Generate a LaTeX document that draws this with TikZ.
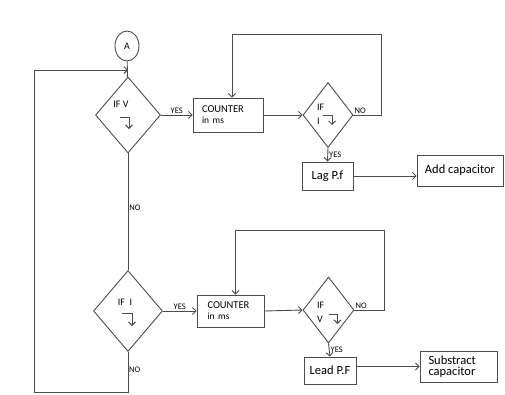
\documentclass[tikz,border=0pt]{standalone}
\usepackage{fontspec}
\setmainfont{Carlito}
\usetikzlibrary{shapes.geometric, positioning, arrows.meta}

\tikzset{
  line/.style={draw=black!70, line width=0.9pt},
  arr/.style={line, -{Straight Barb[length=3.5pt,width=7pt]}},
  blk/.style={line, rectangle, inner sep=0pt, font=\fontsize{12.5}{13}\selectfont},
  cnt/.style={blk, align=left, font=\fontsize{10.5}{12}\selectfont},
  dec/.style={line, diamond, inner sep=0pt},
  ift/.style={inner sep=0pt, font=\fontsize{10}{11}\selectfont},
  yn/.style={inner sep=1pt, font=\fontsize{8.5}{9}\selectfont}
}

\begin{document}
\begin{tikzpicture}[x=1pt, y=-1pt]
\useasboundingbox (0,0) rectangle (505,394);

% upper branch
\node[line, ellipse, minimum width=24pt, minimum height=30pt, inner sep=0pt] (A) at (127,46) {A};
\node[dec, minimum width=65pt, minimum height=76pt] (d1) at (128,115) {};
\node[ift] (t1) at ([shift={(-7,-11)}]d1.center) {IF V};
\node[cnt, minimum width=70pt, minimum height=34pt, text width=52pt] (c1) at (228,115) {COUNTER\\[-1pt]{\fontsize{9.5}{10}\selectfont in ms}};
\node[dec, minimum width=50pt, minimum height=65pt] (d2) at (328,115) {};
\node[ift, anchor=west] (t2a) at ([shift={(-11,-8)}]d2.center) {IF};
\node[ift, anchor=west] (t2b) at ([shift={(-11,6)}]d2.center) {I};
\node[blk, minimum width=51pt, minimum height=28pt] (lag) at (327.5,176) {Lag P.f};
\node[blk, minimum width=86pt, minimum height=31pt] (add) at (460,170.5) {Add capacitor};

% lower branch
\node[dec, minimum width=69pt, minimum height=81pt] (d3) at (128,311) {};
\node[ift] (t3) at ([shift={(-3,-9)}]d3.center) {IF\ \ I};
\node[cnt, minimum width=67pt, minimum height=32pt, text width=46pt] (c2) at (230.5,311) {COUNTER\\[-1pt]{\fontsize{9.5}{10}\selectfont in ms}};
\node[dec, minimum width=51pt, minimum height=66pt] (d4) at (328.5,310) {};
\node[ift, anchor=west] (t4a) at ([shift={(-11.5,-5)}]d4.center) {IF};
\node[ift, anchor=west] (t4b) at ([shift={(-11.5,9)}]d4.center) {V};
\node[blk, minimum width=52pt, minimum height=27pt] (lead) at (330,370.5) {Lead P.F};
\node[blk, minimum width=77pt, minimum height=31pt, align=left, text width=60pt] (sub) at (458.5,366.5) {Substract\\[-2pt]capacitor};

% edge symbols
\draw[arr] ([shift={(-8,2)}]d1.center) -- ++(9,0) -- ++(0,12);
\draw[arr] ([shift={(-5,0)}]d2.center) -- ++(9,0) -- ++(0,10);
\draw[arr] ([shift={(-6,2)}]d3.center) -- ++(10,0) -- ++(0,13);
\draw[arr] ([shift={(0,4)}]d4.center) -- ++(9,0) -- ++(0,10);

% loop points
\coordinate (lb) at (34,392);
\coordinate (lt) at (34,70);
\coordinate (j) at (128,70);
\coordinate (r1) at (381,34);
\coordinate (r2) at (384,230);

% connectors
\draw[line] (A) -- (d1);
\draw[arr] (d3.south) |- (lb) -- (lt) -- (j);
\draw[arr] (d1.east) -- node[yn, above] {YES} (c1.west);
\draw[line] (d1.south) -- node[yn, right, pos=.47] {NO} (d3.north);
\draw[arr] (c1.east) -- (d2.west);
\draw[arr] (d2.east) -| (r1) -| ([xshift=4pt]c1.north);
\node[yn, above right] (n2) at (d2.east) {NO};
\draw[arr] (d2.south) -- node[yn, right] {YES} (lag.north);
\draw[arr] (lag.east) -- (lag.east -| add.west);

\draw[arr] (d3.east) -- node[yn, above] {YES} (c2.west);
\node[yn, right] (n3) at ([yshift=-18pt]d3.south) {NO};
\draw[arr] (c2.east) -- (d4.west);
\draw[arr] (d4.east) -| (r2) -| ([xshift=5pt]c2.north);
\node[yn, above right] (n4) at (d4.east) {NO};
\draw[arr] (d4.south) -- node[yn, right] {YES} (lead.north);
\draw[arr] (lead.east |- sub.west) -- (sub.west);
\end{tikzpicture}
\end{document}
